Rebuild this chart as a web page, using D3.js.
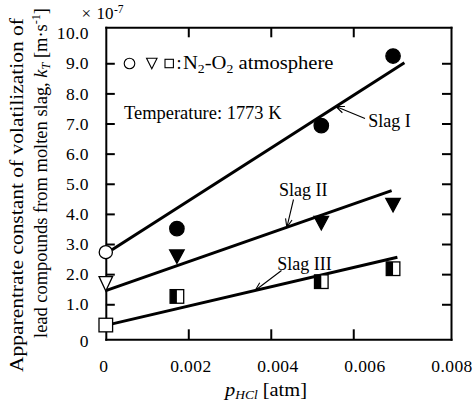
<!DOCTYPE html>
<html>
<head>
<meta charset="utf-8">
<script src="https://cdn.jsdelivr.net/npm/d3@7"></script>
<style>
  html, body { margin: 0; padding: 0; background: #fff; }
  svg { display: block; }
  text { font-family: "Liberation Serif", "Times New Roman", serif; fill: #000; }
</style>
</head>
<body>
<svg id="chart" width="475" height="405"></svg>
<script>
// HCl partial pressure at which each slag was measured [atm]
const pHCl = [0, 0.001724, 0.005225, 0.006965];

// Apparent volatilization constant k_T [x10^-7 m/s]
const kSlagI   = [2.73, 3.51, 6.93, 9.24];
const kSlagII  = [1.68, 2.58, 3.69, 4.29];
const kSlagIII = [0.31, 1.26, 1.75, 2.18];

// Fitted straight lines: start and end in data units
const fitSlagI   = { p: [0, 0.00724], k: [2.68, 9.02] };
const fitSlagII  = { p: [0, 0.00693], k: [1.45, 4.77] };
const fitSlagIII = { p: [0, 0.00707], k: [0.30, 2.56] };

// Axis ticks and labels
const xTickVals  = [0.002, 0.004, 0.006];
const xLabelVals = [0, 0.002, 0.004, 0.006, 0.008];
const yTickVals  = [1, 2, 3, 4, 5, 6, 7, 8, 9];
const yLabelVals = [0, 1, 2, 3, 4, 5, 6, 7, 8, 9, 10];

const serif = '"Liberation Serif", "Times New Roman", serif';
const svg = d3.select("#chart");

const x = d3.scaleLinear().domain([0, 0.00837]).range([105.8, 451]);
const y = d3.scaleLinear().domain([-0.163, 10.194]).range([339.3, 27.3]);

// ---- frame and inward ticks ----
function styleTicks(g) {
  g.attr("font-family", serif);
  g.select(".domain").attr("stroke", "#000").attr("stroke-width", 2).attr("stroke-linecap", "square");
  g.selectAll(".tick line").attr("stroke", "#000").attr("stroke-width", 2);
  g.selectAll(".tick text").remove();
}
svg.append("g").attr("transform", `translate(${x(0)},0)`)
  .call(d3.axisLeft(y).tickValues(yTickVals).tickSizeInner(-9).tickSizeOuter(0).tickFormat(""))
  .call(styleTicks);
svg.append("g").attr("transform", `translate(${x.range()[1]},0)`)
  .call(d3.axisRight(y).tickValues(yTickVals).tickSizeInner(-9).tickSizeOuter(0).tickFormat(""))
  .call(styleTicks);
svg.append("g").attr("transform", `translate(0,${y.range()[0]})`)
  .call(d3.axisBottom(x).tickValues(xTickVals).tickSizeInner(-10).tickSizeOuter(0).tickFormat(""))
  .call(styleTicks);
svg.append("g").attr("transform", `translate(0,${y.range()[1]})`)
  .call(d3.axisTop(x).tickValues(xTickVals).tickSizeInner(-10).tickSizeOuter(0).tickFormat(""))
  .call(styleTicks);

// ---- tick labels (0 sits on the frame edge, end labels at the frame corners) ----
const yLabel = d3.scaleLinear().domain([0, 1, 10]).range([y.range()[0] + 1.5, y(1), y(10)]);
const xLabel = d3.scaleLinear().domain([0, 0.008]).range([x(0) - 2.5, x.range()[1] + 0.5]);

function styleLabels(g) {
  g.attr("font-family", serif).attr("font-size", 17.5);
  g.select(".domain").remove();
  g.selectAll(".tick line").remove();
  g.selectAll(".tick text").attr("fill", "#000").attr("letter-spacing", 0.4);
}
svg.append("g").attr("transform", "translate(89,0)")
  .call(d3.axisLeft(yLabel).tickValues(yLabelVals).tickSize(0).tickPadding(0)
    .tickFormat(d => d === 0 ? "0" : d.toFixed(1)))
  .call(styleLabels);
svg.append("g").attr("transform", "translate(0,360)")
  .call(d3.axisBottom(xLabel).tickValues(xLabelVals).tickSize(0).tickPadding(0)
    .tickFormat(d => d === 0 ? "0" : d.toFixed(3)))
  .call(styleLabels);

// exponent of the y axis
const expo = svg.append("text").attr("y", 18.5).attr("font-size", 17);
expo.append("tspan").attr("x", 81.5).text("×");
expo.append("tspan").attr("x", 96.5).text("10");
expo.append("tspan").attr("x", 114).attr("dy", -6).attr("font-size", 11.5).text("-7");

// ---- fitted lines ----
const line = d3.line().x(d => x(d[0])).y(d => y(d[1]));
const fits = [fitSlagI, fitSlagII, fitSlagIII];
svg.append("g").selectAll("path").data(fits).join("path")
  .attr("d", f => line(d3.zip(f.p, f.k)))
  .attr("fill", "none").attr("stroke", "#000").attr("stroke-width", 3);

// ---- markers ----
const mk = svg.append("g");
const R = 7.2;
// Slag I: circles
pHCl.forEach((p, i) => {
  mk.append("circle").attr("cx", x(p)).attr("cy", y(kSlagI[i]))
    .attr("r", i === 0 ? 6.6 : R)
    .attr("fill", i === 0 ? "#fff" : "#000")
    .attr("stroke", "#000").attr("stroke-width", 1.3);
});
// Slag II: downward triangles
function downTriangle(cx, cy, w, h) {
  return `M${cx - w / 2},${cy - h / 2}L${cx + w / 2},${cy - h / 2}L${cx},${cy + h / 2}Z`;
}
pHCl.forEach((p, i) => {
  const open = i === 0;
  mk.append("path")
    .attr("d", downTriangle(x(p), y(kSlagII[i]), open ? 13.5 : 14.5, open ? 14.5 : 13.5))
    .attr("fill", open ? "#fff" : "#000")
    .attr("stroke", "#000").attr("stroke-width", 1.3).attr("stroke-linejoin", "miter");
});
// Slag III: squares (half filled when HCl present)
const S = 13.6;
pHCl.forEach((p, i) => {
  const cx = x(p), cy = y(kSlagIII[i]);
  mk.append("rect").attr("x", cx - S / 2).attr("y", cy - S / 2).attr("width", S).attr("height", S)
    .attr("fill", "#fff").attr("stroke", "#000").attr("stroke-width", 1.3);
  if (i > 0) {
    mk.append("rect").attr("x", cx - S / 2).attr("y", cy - S / 2).attr("width", S / 2).attr("height", S)
      .attr("fill", "#000");
  }
});

// ---- slag labels with arrows pointing at their lines ----
const slagNotes = [
  { text: "Slag I",   tx: 368.3, ty: 126.5, tail: [365, 118.5], at: 0.00558, fit: fitSlagI },
  { text: "Slag II",  tx: 279,   ty: 195.5, tail: [293.5, 199.5], at: 0.00439, fit: fitSlagII },
  { text: "Slag III", tx: 277.3, ty: 269.5, tail: [281.5, 270.5], at: 0.00362, fit: fitSlagIII }
];
const notes = svg.append("g");
slagNotes.forEach(n => {
  notes.append("text").attr("x", n.tx).attr("y", n.ty).attr("font-size", 18).text(n.text);
  const kAt = d3.scaleLinear().domain(n.fit.p).range(n.fit.k)(n.at);
  const tip = [x(n.at), y(kAt)];
  const ang = Math.atan2(tip[1] - n.tail[1], tip[0] - n.tail[0]);
  const L = 9, spread = 0.38;
  const h1 = [tip[0] - L * Math.cos(ang - spread), tip[1] - L * Math.sin(ang - spread)];
  const h2 = [tip[0] - L * Math.cos(ang + spread), tip[1] - L * Math.sin(ang + spread)];
  notes.append("path")
    .attr("d", `M${n.tail}L${tip}M${h1}L${tip}L${h2}`)
    .attr("fill", "none").attr("stroke", "#000").attr("stroke-width", 1.1);
});

// ---- legend and conditions ----
const lg = svg.append("g");
lg.append("circle").attr("cx", 129.5).attr("cy", 63.5).attr("r", 5.3)
  .attr("fill", "none").attr("stroke", "#000").attr("stroke-width", 1.1);
lg.append("path").attr("d", downTriangle(151.8, 63.5, 10.5, 10.5))
  .attr("fill", "none").attr("stroke", "#000").attr("stroke-width", 1.1);
lg.append("rect").attr("x", 165).attr("y", 59.3).attr("width", 8.4).attr("height", 8.4)
  .attr("fill", "none").attr("stroke", "#000").attr("stroke-width", 1.1);
lg.append("text").attr("x", 179).attr("y", 68.5).attr("font-size", 18).attr("text-anchor", "middle").text(":");
const atm = lg.append("text").attr("x", 183).attr("y", 68.5).attr("font-size", 18)
  .attr("textLength", 150.5).attr("lengthAdjust", "spacingAndGlyphs");
atm.append("tspan").text("N");
atm.append("tspan").attr("font-size", 12).attr("dy", 4).text("2");
atm.append("tspan").attr("dy", -4).text("-O");
atm.append("tspan").attr("font-size", 12).attr("dy", 4).text("2");
atm.append("tspan").attr("dy", -4).text(" atmosphere");

lg.append("text").attr("x", 124).attr("y", 119.3).attr("font-size", 18)
  .attr("textLength", 157.5).attr("lengthAdjust", "spacingAndGlyphs")
  .text("Temperature: 1773 K");

// ---- axis titles ----
const xt = svg.append("text").attr("x", 225).attr("y", 396).attr("font-size", 19)
  .attr("textLength", 82).attr("lengthAdjust", "spacingAndGlyphs");
xt.append("tspan").attr("font-style", "italic").text("p");
xt.append("tspan").attr("font-style", "italic").attr("font-size", 12.5).attr("dy", 2.5).text("HCl");
xt.append("tspan").attr("dy", -2.5).text("  [atm]");

svg.append("text").attr("transform", "translate(23,195) rotate(-90)")
  .attr("text-anchor", "middle").attr("font-size", 19)
  .attr("textLength", 354).attr("lengthAdjust", "spacingAndGlyphs")
  .text("Apparentrate constant of volatilization of");

const yt2 = svg.append("text").attr("transform", "translate(46.5,173) rotate(-90)")
  .attr("text-anchor", "middle").attr("font-size", 19)
  .attr("textLength", 330).attr("lengthAdjust", "spacingAndGlyphs");
yt2.append("tspan").text("lead compounds from molten slag, ");
yt2.append("tspan").attr("font-style", "italic").text("k");
yt2.append("tspan").attr("font-style", "italic").attr("font-size", 12.5).attr("dy", 3).text("T");
yt2.append("tspan").attr("dy", -3).text(" [m·s");
yt2.append("tspan").attr("font-size", 12.5).attr("dy", -7).text("-1");
yt2.append("tspan").attr("dy", 7).text("]");
</script>
</body>
</html>
